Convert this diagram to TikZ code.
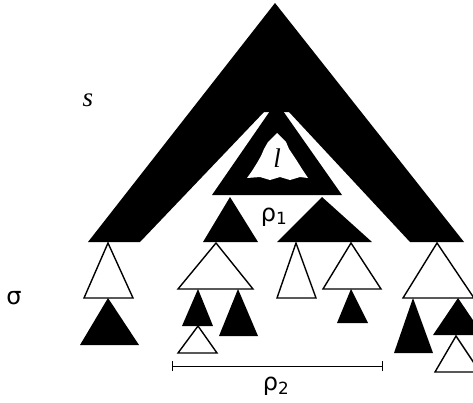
\documentclass[tikz,border=0pt]{standalone}
\usepackage{fontspec}
\setmainfont{Liberation Serif}
\newfontfamily\grk{DejaVu Sans}
\begin{document}
\begin{tikzpicture}[x=1pt,y=-1pt,
  blk/.style={fill=black},
  wtri/.style={draw=black,line width=1.4pt,fill=white,line join=miter},
  ital/.style={inner sep=0pt,font=\fontsize{27}{30}\selectfont\itshape},
  greek/.style={inner sep=0pt,font=\fontsize{24}{28}\selectfont\grk}]
\useasboundingbox (0,0) rectangle (473,402);
\clip (0,0) rectangle (473,402);
% chevron
\fill[blk] (88,242) -- (275,3) -- (464,242) -- (410,242) -- (289,112) -- (264,112) -- (140,242) -- cycle;
% l triangle
\fill[blk] (270,111) -- (283,111) -- (342,195) -- (212,195) -- cycle;
% white blob
\fill[white] (277,133) -- (281,137) -- (286,142) -- (289,149) -- (293,155) -- (297,161) -- (302,169) -- (308,178)
  -- (300,177) -- (290,180) -- (280,177) -- (270,180) -- (260,177) -- (247,178)
  -- (252,171) -- (257,163) -- (261,156) -- (264,149) -- (268,142) -- (273,137) -- cycle;
% second row
\fill[blk] (230,197) -- (258,242) -- (203,242) -- cycle;
\fill[blk] (322,197) -- (372,242) -- (277,242) -- cycle;
% column 1
\draw[wtri] (108,243) -- (133,298) -- (84,298) -- cycle;
\fill[blk] (108,298) -- (139,345) -- (80,345) -- cycle;
% column 2
\draw[wtri] (216,243) -- (253,289) -- (178,289) -- cycle;
\fill[blk] (198,289) -- (213,326) -- (182,326) -- cycle;
\fill[blk] (238,289) -- (258,336) -- (219,336) -- cycle;
\draw[wtri] (198,326) -- (217,353) -- (178,353) -- cycle;
% column 3
\draw[wtri] (296,243) -- (316,298) -- (277,298) -- cycle;
\draw[wtri] (351,243) -- (381,289) -- (323,289) -- cycle;
\fill[blk] (351,289) -- (368,323) -- (337,323) -- cycle;
% column 4
\draw[wtri] (437,243) -- (474,298) -- (403,298) -- cycle;
\fill[blk] (413,298) -- (433,353) -- (394,353) -- cycle;
\fill[blk] (458,298) -- (483,335) -- (433,335) -- cycle;
\draw[wtri] (456,336) -- (480,372) -- (435,372) -- cycle;
% rho2 bar
\coordinate (barL) at (172,366);
\coordinate (barR) at (382,366);
\draw[line width=1pt] (barL) -- (barR);
\draw[line width=1pt] ([yshift=-5pt]barL) -- ([yshift=5pt]barL);
\draw[line width=1pt] ([yshift=-5pt]barR) -- ([yshift=5pt]barR);
% labels
\node[ital] (s) at (88,100) {s};
\node[ital] (l) at (277,158) {l};
\node[greek] (r1) at (274,217) {ρ\textsubscript{1}};
\node[greek] (sig) at (14,298) {σ};
\node[greek] (r2) at (276,386) {ρ\textsubscript{2}};
\end{tikzpicture}
\end{document}
